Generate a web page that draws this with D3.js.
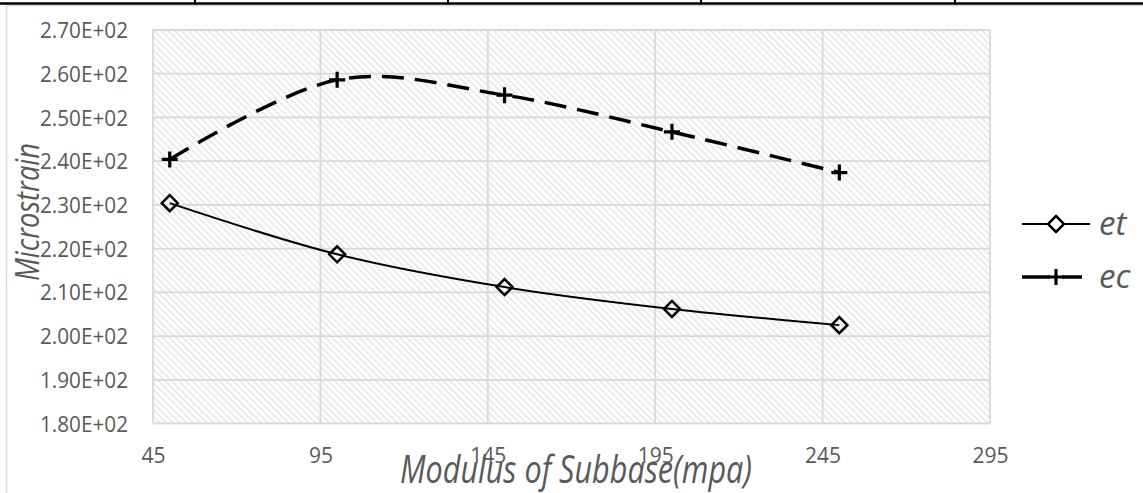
<!DOCTYPE html>
<html>
<head>
<meta charset="utf-8">
<script src="https://cdn.jsdelivr.net/npm/d3@7"></script>
<style>
  html, body { margin: 0; padding: 0; background: #fff; }
  svg { display: block; }
  text { font-family: "Open Sans", "Liberation Sans", sans-serif; fill: #595959; }
</style>
</head>
<body>
<svg id="chart" width="1143" height="493"></svg>
<script>
// ---- data ----
const modulus = [50, 100, 150, 200, 250];
const etValues = [230.4, 218.7, 211.2, 206.2, 202.5];
const ecValues = [240.4, 258.6, 255.1, 246.7, 237.4];
const seriesNames = ["et", "ec"];
const xTicks = [45, 95, 145, 195, 245, 295];
const yTicks = [180, 190, 200, 210, 220, 230, 240, 250, 260, 270];
const xTitle = "Modulus of Subbase(mpa)";
const yTitle = "Microstrain";

// ---- layout ----
const W = 1143, H = 493;
const plot = { left: 153, right: 990, top: 30, bottom: 423.5 };
const svg = d3.select("#chart");

// decorative frame (table border above the chart + chart area border)
svg.append("rect").attr("x", 6.5).attr("y", 5.5).attr("width", 1300).attr("height", 600)
  .attr("fill", "#fff").attr("stroke", "#d9d9d9").attr("stroke-width", 1.5);
svg.append("line").attr("x1", 0).attr("x2", W).attr("y1", 3.5).attr("y2", 3.5)
  .attr("stroke", "#000").attr("stroke-width", 2.5);
[195, 448, 701, 955].forEach(x => {
  svg.append("line").attr("x1", x).attr("x2", x).attr("y1", 0).attr("y2", 4.5)
    .attr("stroke", "#000").attr("stroke-width", 2);
});

const x = d3.scaleLinear().domain([45, 295]).range([plot.left, plot.right]);
const y = d3.scaleLinear().domain([180, 270]).range([plot.bottom, plot.top]);

// hatch pattern
const defs = svg.append("defs");
const pat = defs.append("pattern").attr("id", "hatch").attr("patternUnits", "userSpaceOnUse")
  .attr("width", 4.8).attr("height", 10).attr("patternTransform", "rotate(-45)");
pat.append("rect").attr("width", 4.8).attr("height", 10).attr("fill", "#ffffff");
pat.append("line").attr("x1", 1).attr("x2", 1).attr("y1", 0).attr("y2", 10)
  .attr("stroke", "#e9e9e9").attr("stroke-width", 1.8);

svg.append("rect").attr("x", plot.left).attr("y", plot.top)
  .attr("width", plot.right - plot.left).attr("height", plot.bottom - plot.top)
  .attr("fill", "url(#hatch)");

// gridlines
const grid = svg.append("g");
grid.selectAll("line.h").data(yTicks).join("line").attr("class", "h")
  .attr("x1", plot.left).attr("x2", plot.right)
  .attr("y1", d => y(d)).attr("y2", d => y(d))
  .attr("stroke", "#d9d9d9").attr("stroke-width", 1.8);
grid.selectAll("line.v").data(xTicks).join("line").attr("class", "v")
  .attr("x1", d => x(d)).attr("x2", d => x(d))
  .attr("y1", plot.top).attr("y2", plot.bottom)
  .attr("stroke", "#d9d9d9").attr("stroke-width", 1.8);

// axes (labels only)
const fmtExp = v => {
  const [m, e] = v.toExponential(2).split("e");
  const sign = e[0] === "-" ? "-" : "+";
  const digits = e.replace(/[+-]/, "").padStart(2, "0");
  return m + "E" + sign + digits;
};
const yAxis = d3.axisLeft(y).tickValues(yTicks).tickFormat(fmtExp).tickSize(0).tickPadding(25);
const gy = svg.append("g").attr("transform", `translate(${plot.left},0)`).call(yAxis);
gy.select(".domain").remove();
gy.selectAll("text").attr("font-size", 21).attr("fill", "#595959")
  .attr("font-family", "'Open Sans', sans-serif").attr("dy", "0.36em")
  .attr("textLength", 88).attr("lengthAdjust", "spacingAndGlyphs");

const xAxis = d3.axisBottom(x).tickValues(xTicks).tickFormat(d3.format("d")).tickSize(0).tickPadding(0);
const gx = svg.append("g").attr("transform", `translate(0,${plot.bottom})`).call(xAxis);
gx.select(".domain").remove();
gx.selectAll("text").attr("font-size", 21).attr("fill", "#595959")
  .attr("font-family", "'Open Sans', sans-serif").attr("y", 39.5).attr("dy", 0);

// titles
svg.append("text").attr("x", 576).attr("y", 483).attr("text-anchor", "middle")
  .attr("font-size", 38).attr("font-style", "italic")
  .attr("textLength", 352).attr("lengthAdjust", "spacingAndGlyphs").text(xTitle);
svg.append("text").attr("transform", "translate(39,212) rotate(-90)").attr("text-anchor", "middle")
  .attr("font-size", 33).attr("font-style", "italic")
  .attr("textLength", 138).attr("lengthAdjust", "spacingAndGlyphs").text(yTitle);

// lines
const pts = vals => modulus.map((m, i) => [x(m), y(vals[i])]);
const line = d3.line().curve(d3.curveCardinal.tension(0));

svg.append("path").attr("d", line(pts(etValues))).attr("fill", "none")
  .attr("stroke", "#000").attr("stroke-width", 2);
svg.append("path").attr("d", line(pts(ecValues))).attr("fill", "none")
  .attr("stroke", "#000").attr("stroke-width", 3.5).attr("stroke-dasharray", "22,11");

// markers
const diamond = (cx, cy, r) => `M${cx},${cy - r}L${cx + r},${cy}L${cx},${cy + r}L${cx - r},${cy}Z`;
const plus = (cx, cy, r) => `M${cx - r},${cy}L${cx + r},${cy}M${cx},${cy - r}L${cx},${cy + r}`;

svg.append("g").selectAll("path").data(pts(etValues)).join("path")
  .attr("d", d => diamond(d[0], d[1], 8)).attr("fill", "none")
  .attr("stroke", "#000").attr("stroke-width", 2.5).attr("stroke-linejoin", "miter");
svg.append("g").selectAll("path").data(pts(ecValues)).join("path")
  .attr("d", d => plus(d[0], d[1], 8)).attr("fill", "none")
  .attr("stroke", "#000").attr("stroke-width", 3.2);

// legend
const legend = svg.append("g");
const legY = [224, 277];
// et
legend.append("line").attr("x1", 1022).attr("x2", 1090).attr("y1", legY[0]).attr("y2", legY[0])
  .attr("stroke", "#000").attr("stroke-width", 2);
legend.append("path").attr("d", diamond(1056, legY[0], 8)).attr("fill", "#fff")
  .attr("stroke", "#000").attr("stroke-width", 2.5);
legend.append("text").attr("x", 1099).attr("y", legY[0] + 11).attr("font-size", 33)
  .attr("font-style", "italic").text(seriesNames[0]);
// ec
legend.append("line").attr("x1", 1022).attr("x2", 1050).attr("y1", legY[1]).attr("y2", legY[1])
  .attr("stroke", "#000").attr("stroke-width", 3.5);
legend.append("line").attr("x1", 1062).attr("x2", 1082).attr("y1", legY[1]).attr("y2", legY[1])
  .attr("stroke", "#000").attr("stroke-width", 3.5);
legend.append("path").attr("d", plus(1056, legY[1], 8)).attr("fill", "none")
  .attr("stroke", "#000").attr("stroke-width", 3.2);
legend.append("text").attr("x", 1099).attr("y", legY[1] + 11).attr("font-size", 33)
  .attr("font-style", "italic").text(seriesNames[1]);
</script>
</body>
</html>
